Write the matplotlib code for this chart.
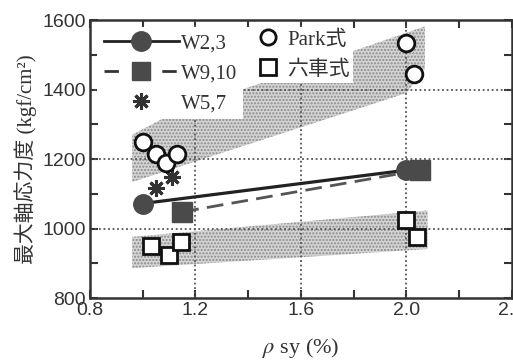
import matplotlib
matplotlib.use('Agg')
import matplotlib.pyplot as plt
from matplotlib.lines import Line2D
import numpy as np

plt.rcParams['mathtext.fontset'] = 'stix'

# datos
w23_x = [1.0, 2.0]
w23_y = [1072, 1168]
w910_x = [1.15, 2.05]
w910_y = [1048, 1168]
w57_x = [1.05, 1.11]
w57_y = [1118, 1148]
park_x = [1.0, 1.05, 1.09, 1.13, 2.0, 2.03]
park_y = [1250, 1214, 1188, 1214, 1535, 1445]
mutsu_x = [1.03, 1.10, 1.145, 2.0, 2.04]
mutsu_y = [950, 925, 960, 1025, 975]

# bandas sombreadas (poligonos)
banda_sup_x = [0.96, 1.11, 2.07, 2.07, 2.0, 0.96]
banda_sup_y = [1270, 1330, 1582, 1460, 1390, 1134]
banda_inf_x = [0.96, 2.08, 2.08, 0.96]
banda_inf_y = [976, 1052, 941, 886]

serif = ['Liberation Serif', 'Noto Sans CJK JP']
gris = '#333333'
fig = plt.figure(figsize=(5.13, 3.6), dpi=100)
ax = fig.add_axes([0.1754, 0.1722, 0.8226, 0.772])

for bx, by in [(banda_sup_x, banda_sup_y), (banda_inf_x, banda_inf_y)]:
    ax.fill(bx, by, facecolor='#d4d4d4', edgecolor='#8a8a8a',
            hatch='.....', linewidth=0, zorder=1)

for yv in [1000, 1200, 1400]:
    ax.axhline(yv, color='#555555', linestyle=(0, (1, 1.5)), linewidth=1.3, zorder=2)
for xv in [1.2, 1.6, 2.0]:
    ax.axvline(xv, color='#555555', linestyle=(0, (1, 1.5)), linewidth=1.3, zorder=2)

ax.plot(w910_x, w910_y, color='#555555', linestyle=(0, (6, 3)), linewidth=2,
        marker='s', markersize=15, markerfacecolor='#4a4a4a', markeredgecolor='#4a4a4a', zorder=4)
ax.plot(w23_x, w23_y, color='#222222', linewidth=2.3,
        marker='o', markersize=14, markerfacecolor='#4a4a4a', markeredgecolor='#4a4a4a', zorder=5)
ax.plot(w57_x, w57_y, linestyle='none', marker=(8, 2, 0), markersize=12,
        markeredgewidth=2.2, color=gris, zorder=5)
ax.plot(park_x, park_y, linestyle='none', marker='o', markersize=12,
        markerfacecolor='white', markeredgecolor='#111111', markeredgewidth=2, zorder=5)
ax.plot(mutsu_x, mutsu_y, linestyle='none', marker='s', markersize=12,
        markerfacecolor='white', markeredgecolor='#111111', markeredgewidth=2, zorder=5)

ax.set_xlim(0.8, 2.4)
ax.set_ylim(800, 1600)
ax.set_xticks([0.8, 1.2, 1.6, 2.0, 2.4])
ax.set_xticklabels(['0.8', '1.2', '1.6', '2.0', '2.4'])
ax.set_xticks(np.arange(1.0, 2.4, 0.4), minor=True)
ax.set_yticks([800, 1000, 1200, 1400, 1600])
ax.set_yticks([900, 1100, 1300, 1500], minor=True)
ax.tick_params(which='both', direction='in', top=True, right=True, width=1.5,
               length=6, color=gris, labelsize=14, labelcolor=gris, pad=3)
for lbl in ax.get_xticklabels() + ax.get_yticklabels():
    lbl.set_fontfamily('Liberation Sans')
for s in ax.spines.values():
    s.set_linewidth(1.8)
    s.set_color(gris)

ax.set_xlabel('$\\rho$ sy (%)', fontsize=16, family=serif, color=gris, labelpad=12)
ax.set_ylabel('最大軸応力度 (kgf/cm²)', fontsize=15, family=serif, color=gris, labelpad=4)

h_w23 = Line2D([], [], color='#222222', linewidth=2, marker='o', markersize=14,
               markerfacecolor='#4a4a4a', markeredgecolor='#4a4a4a')
h_w910 = Line2D([], [], color=gris, linestyle=(0, (5.2, 5.2)), linewidth=2, marker='s',
                markersize=13, markerfacecolor='#4a4a4a', markeredgecolor='#4a4a4a')
h_w57 = Line2D([], [], linestyle='none', marker=(8, 2, 0), markersize=12,
               markeredgewidth=2.2, color=gris)
h_park = Line2D([], [], linestyle='none', marker='o', markersize=11, markerfacecolor='white',
                markeredgecolor='#111111', markeredgewidth=2)
h_mutsu = Line2D([], [], linestyle='none', marker='s', markersize=11, markerfacecolor='white',
                 markeredgecolor='#111111', markeredgewidth=2)

opciones = dict(loc='upper left', prop={'family': serif, 'size': 15}, handletextpad=0.1,
                frameon=True, fancybox=False, framealpha=1,
                edgecolor='none', facecolor='white', labelcolor=gris)
leg1 = ax.legend([h_w23, h_w910, h_w57], ['W2,3', 'W9,10', 'W5,7'], handlelength=3.6,
                 labelspacing=0.5, borderpad=0.3,
                 bbox_to_anchor=(0.0, 1.0), borderaxespad=0.35, **opciones)
leg1.set_zorder(10)
ax.add_artist(leg1)
leg2 = ax.legend([h_park, h_mutsu], ['Park式', '六車式'], handlelength=1.7,
                 labelspacing=0.5, borderpad=0.15,
                 bbox_to_anchor=(0.372, 0.975), borderaxespad=0.0, **opciones)
leg2.set_zorder(10)

fig.savefig('out.png', dpi=100)
